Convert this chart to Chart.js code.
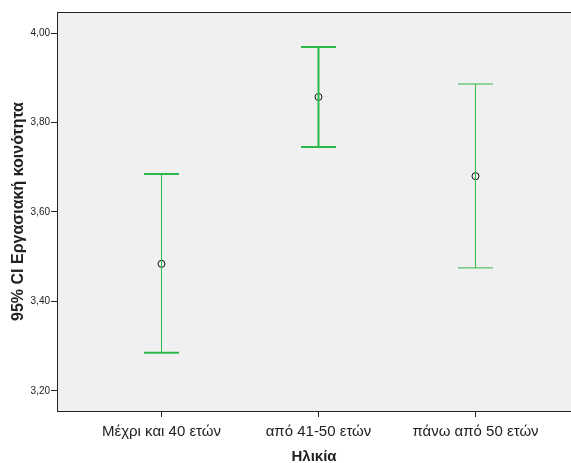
<!DOCTYPE html>
<html>
<head>
<meta charset="utf-8">
<script src="https://cdn.jsdelivr.net/npm/chart.js@4"></script>
<style>
    html, body { margin: 0; padding: 0; background: #fff; overflow: hidden; }
    #wrap { width: 571px; height: 470px; }
</style>
</head>
<body>
<div id="wrap"><canvas id="ci-chart"></canvas></div>
<script>
// Age groups and 95% CI of "Εργασιακή κοινότητα"
const groups = ['Μέχρι και 40 ετών', 'από 41-50 ετών', 'πάνω από 50 ετών'];
const means = [3.484, 3.857, 3.680];
const lower = [3.285, 3.745, 3.475];
const upper = [3.685, 3.969, 3.886];
const yTicks = [3.2, 3.4, 3.6, 3.8, 4.0];

const colors = {
    green: '#2fb84a',
    plotBg: '#f0f0f0',
    axis: '#222',
    text: '#222'
};

// line widths per group (stem, caps)
const stemWidth = [1, 2, 1];
const capWidth = [2, 2, 1];

const fontFamily = "'Liberation Sans', Arial, sans-serif";

// plot background + top frame line
const frame = {
    id: 'frame',
    beforeDraw(chart) {
        const { ctx, chartArea: a } = chart;
        ctx.save();
        ctx.fillStyle = colors.plotBg;
        ctx.fillRect(a.left, a.top, a.right - a.left, a.bottom - a.top);
        ctx.restore();
    },
    afterDraw(chart) {
        const { ctx, chartArea: a } = chart;
        ctx.save();
        ctx.strokeStyle = colors.axis;
        ctx.lineWidth = 1;
        ctx.beginPath();
        ctx.moveTo(a.left, a.top + 0.5);
        ctx.lineTo(a.right, a.top + 0.5);
        ctx.stroke();
        ctx.restore();
    }
};

const datasets = groups.map((g, i) => ({
    data: [{ x: i, y: lower[i] }, { x: i, y: upper[i] }],
    showLine: true,
    borderColor: colors.green,
    borderWidth: stemWidth[i],
    pointStyle: 'line',
    pointRadius: 17.5,
    pointBorderColor: colors.green,
    pointBorderWidth: capWidth[i]
}));

datasets.push({
    data: means.map((m, i) => ({ x: i, y: m })),
    showLine: false,
    pointStyle: 'circle',
    pointRadius: 3.5,
    pointBorderColor: '#111',
    pointBackgroundColor: 'rgba(0,0,0,0)',
    pointBorderWidth: 1
});

new Chart(document.getElementById('ci-chart'), {
    type: 'scatter',
    data: { datasets },
    plugins: [frame],
    options: {
        responsive: true,
        maintainAspectRatio: false,
        animation: false,
        layout: {
            autoPadding: false,
            padding: { top: 12, left: 0, right: 0, bottom: 0 }
        },
        plugins: {
            legend: { display: false },
            tooltip: { enabled: false }
        },
        scales: {
            x: {
                type: 'linear',
                min: -0.6656,
                max: 2.6083,
                afterBuildTicks: (scale) => {
                    scale.ticks = groups.map((g, i) => ({ value: i }));
                },
                afterFit: (scale) => {
                    scale.height = 59;
                    scale.paddingLeft = 0;
                    scale.paddingRight = 0;
                },
                grid: {
                    drawOnChartArea: false,
                    drawTicks: true,
                    tickLength: 6,
                    color: colors.axis
                },
                border: { display: true, color: colors.axis, width: 1 },
                ticks: {
                    padding: 6,
                    color: colors.text,
                    font: { family: fontFamily, size: 15 },
                    maxRotation: 0,
                    callback: (v) => groups[v]
                },
                title: {
                    display: true,
                    text: 'Ηλικία',
                    color: colors.text,
                    font: { family: fontFamily, size: 15, weight: 'bold' },
                    padding: { top: 0, bottom: 4 }
                }
            },
            y: {
                min: 3.155,
                max: 4.047,
                afterBuildTicks: (scale) => {
                    scale.ticks = yTicks.map(v => ({ value: v }));
                },
                afterFit: (scale) => {
                    scale.width = 57;
                    scale.paddingTop = 0;
                    scale.paddingBottom = 0;
                },
                grid: {
                    drawOnChartArea: false,
                    drawTicks: true,
                    tickLength: 6,
                    color: colors.axis
                },
                border: { display: true, color: colors.axis, width: 1 },
                ticks: {
                    padding: 1,
                    color: colors.text,
                    font: { family: fontFamily, size: 10 },
                    callback: (v) => v.toFixed(2).replace('.', ',')
                },
                title: {
                    display: true,
                    text: '95% CI Εργασιακή κοινότητα',
                    color: colors.text,
                    font: { family: fontFamily, size: 16, weight: 'bold' },
                    padding: { top: 9, bottom: 0 }
                }
            }
        }
    }
});
</script>
</body>
</html>
